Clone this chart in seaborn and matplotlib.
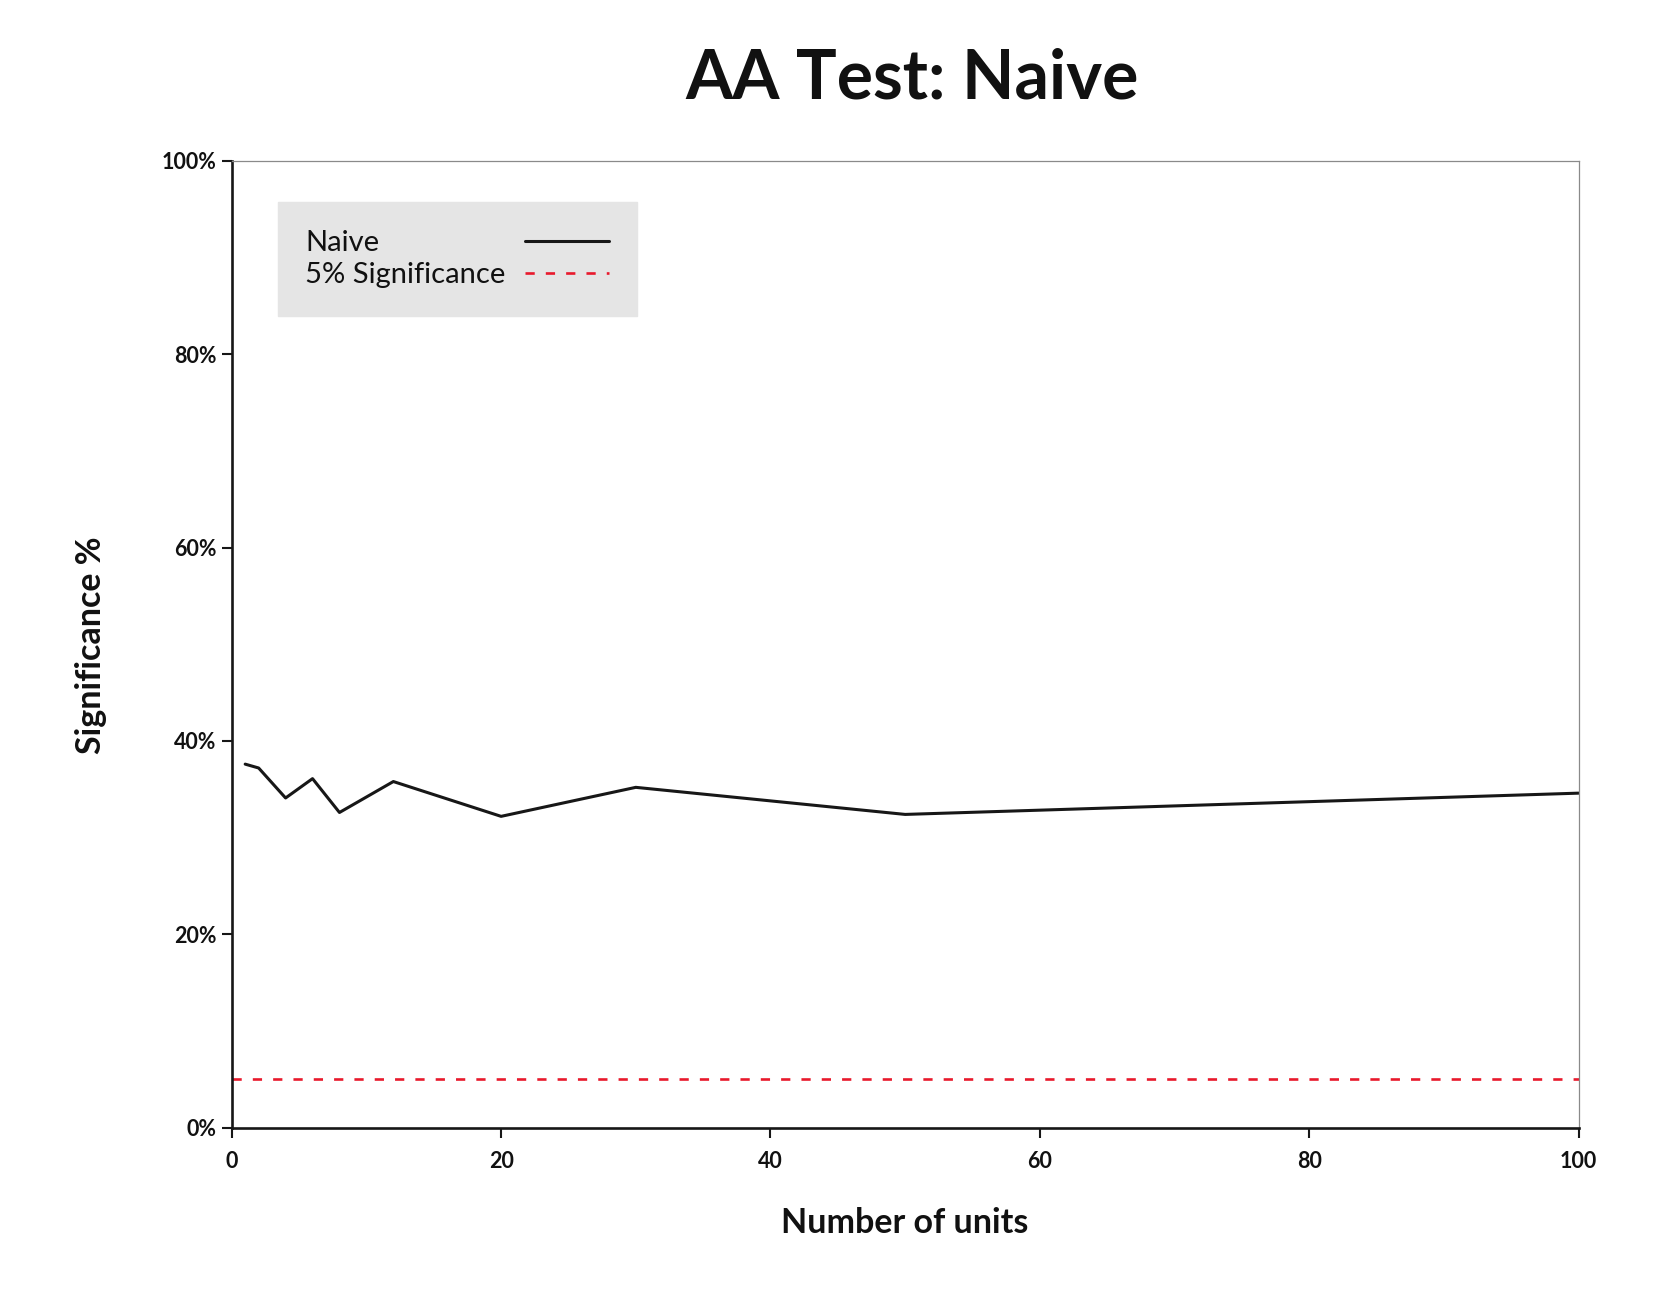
import matplotlib
matplotlib.use("Agg")
import matplotlib.pyplot as plt
import pandas as pd
import seaborn as sns
from matplotlib.ticker import PercentFormatter

# values
units = [1, 2, 4, 6, 8, 12, 20, 30, 50, 100]
naive_sig = [37.6, 37.2, 34.1, 36.1, 32.6, 35.8, 32.2, 35.2, 32.4, 34.6]
threshold = 5
y_ticks = [0, 20, 40, 60, 80, 100]
x_ticks = [0, 20, 40, 60, 80, 100]


def left_align_legend(fig, leg):
    # labels left, handles lined up on the right
    fig.canvas.draw()
    renderer = fig.canvas.get_renderer()
    column = leg._legend_handle_box.get_children()[0]
    column.align = 'left'
    widths = [t.get_window_extent(renderer).width for t in leg.get_texts()]
    widest = max(widths)
    for item, w in zip(column.get_children(), widths):
        item.sep = item.sep + (widest - w) * 72 / fig.dpi


def plot_naive(output_path):
    sns.set_style("ticks")
    plt.rcParams['font.family'] = ['Lato', 'DejaVu Sans']

    df = pd.DataFrame({'units': units, 'sig': naive_sig})

    fig = plt.figure(figsize=(16.67, 13), dpi=100)
    ax = fig.add_axes([0.139, 0.1325, 0.808, 0.7439])

    sns.lineplot(data=df, x='units', y='sig', ax=ax, color='#171717',
                 linewidth=2.2, label='Naive')
    ax.axhline(threshold, color='#e8192c', linewidth=1.9,
               dashes=(3.5, 4.2), label='5% Significance')

    ax.set_xlim(0, 100)
    ax.set_ylim(0, 100)
    ax.set_xticks(x_ticks)
    ax.set_yticks(y_ticks)
    ax.yaxis.set_major_formatter(PercentFormatter(decimals=0))

    for side in ['left', 'bottom']:
        ax.spines[side].set_color('#171717')
        ax.spines[side].set_linewidth(1.9)
    for side in ['top', 'right']:
        ax.spines[side].set_visible(True)
        ax.spines[side].set_color('#8a8a8a')
        ax.spines[side].set_linewidth(0.9)

    ax.tick_params(axis='both', length=7, width=1.5, color='#171717',
                   labelsize=15.5, labelcolor='#111111')
    for lbl in ax.get_xticklabels() + ax.get_yticklabels():
        lbl.set_fontweight('bold')
    ax.tick_params(axis='x', pad=10)
    ax.tick_params(axis='y', pad=4)

    ax.set_xlabel('')
    ax.set_ylabel('')
    fig.text(0.543, 0.0595, 'Number of units', ha='center', va='center',
             fontsize=24.5, fontweight='bold', color='#111111')
    fig.text(0.0545, 0.504, 'Significance %', ha='center', va='center',
             rotation=90, fontsize=24.5, fontweight='bold', color='#111111')
    fig.text(0.547, 0.939, 'AA Test: Naive', ha='center', va='center',
             fontsize=49, fontweight='bold', color='#111111')

    leg = ax.legend(loc='upper left', bbox_to_anchor=(0.034, 0.957),
                    markerfirst=False, frameon=True, fancybox=False,
                    fontsize=21, handlelength=2.9, handletextpad=0.65,
                    borderpad=0.95, labelspacing=0.2, borderaxespad=0)
    frame = leg.get_frame()
    frame.set_facecolor('#e5e5e5')
    frame.set_edgecolor('#e5e5e5')
    frame.set_alpha(1)
    for t in leg.get_texts():
        t.set_color('#111111')
    left_align_legend(fig, leg)

    fig.savefig(output_path, dpi=100)


if __name__ == '__main__':
    plot_naive('out.png')
